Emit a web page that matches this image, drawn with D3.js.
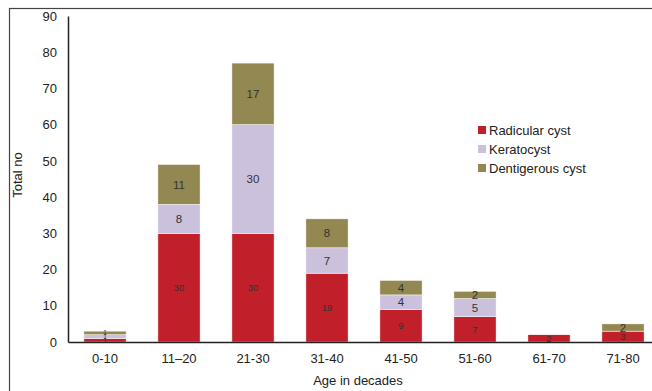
<!DOCTYPE html>
<html>
<head>
<meta charset="utf-8">
<script src="https://cdn.jsdelivr.net/npm/d3@7"></script>
<style>
  html, body { margin: 0; padding: 0; background: #fff; }
  svg { display: block; font-family: "Liberation Sans", Arial, sans-serif; }
</style>
</head>
<body>
<svg id="chart" width="652" height="391"></svg>
<script>
// Cyst counts per age decade
const categories = ["0-10", "11–20", "21-30", "31-40", "41-50", "51-60", "61-70", "71-80"];
const radicular   = [1, 30, 30, 19, 9, 7, 2, 3];
const keratocyst  = [1, 8, 30, 7, 4, 5, 0, 0];
const dentigerous = [1, 11, 17, 8, 4, 2, 0, 2];
const seriesNames = ["Radicular cyst", "Keratocyst", "Dentigerous cyst"];
const seriesColors = ["#c11f29", "#cbc1dc", "#938752"];
const yTicks = [0, 10, 20, 30, 40, 50, 60, 70, 80, 90];

const svg = d3.select("#chart");
const margin = { left: 68, top: 16, bottom: 342, right: 660 };

// Outer frame (partly beyond the canvas)
svg.append("rect")
  .attr("x", 9.5).attr("y", 8.5)
  .attr("width", 700).attr("height", 500)
  .attr("fill", "none").attr("stroke", "#444").attr("stroke-width", 1.2);

const x = d3.scaleBand().domain(categories).range([margin.left, margin.right]).paddingInner(0.43).paddingOuter(0.215);
const y = d3.scaleLinear().domain([0, 90]).range([margin.bottom, margin.top]);

const rows = categories.map((c, i) => ({
  cat: c, s0: radicular[i], s1: keratocyst[i], s2: dentigerous[i]
}));
const stack = d3.stack().keys(["s0", "s1", "s2"])(rows);

// Bars
stack.forEach((layer, li) => {
  const g = svg.append("g");
  layer.forEach(d => {
    const v = d[1] - d[0];
    if (v <= 0) return;
    g.append("rect")
      .attr("x", x(d.data.cat))
      .attr("y", y(d[1]))
      .attr("width", x.bandwidth())
      .attr("height", y(d[0]) - y(d[1]))
      .attr("fill", seriesColors[li])
      .attr("stroke", "#fff").attr("stroke-width", 0.5);
  });
});

// Value labels
stack.forEach((layer, li) => {
  layer.forEach(d => {
    const v = d[1] - d[0];
    if (v <= 0) return;
    const small = (d[1] - d[0]) < 2;
    let fs = li === 0 ? 9.5 : 11.5;
    if (d.data.cat === "0-10") fs = 6.5;
    if (li > 0 && v <= 2 && d.data.cat !== "0-10") fs = 11.5;
    svg.append("text")
      .attr("x", x(d.data.cat) + x.bandwidth() / 2)
      .attr("y", (y(d[0]) + y(d[1])) / 2)
      .attr("dy", "0.36em")
      .attr("text-anchor", "middle")
      .attr("font-size", fs)
      .attr("fill", "#333")
      .text(v);
  });
});

// Y axis
const yAxis = d3.axisLeft(y).tickValues(yTicks).tickSize(0).tickPadding(11);
const ya = svg.append("g").attr("transform", `translate(${margin.left},0)`).call(yAxis);
ya.select(".domain").attr("stroke", "#222").attr("stroke-width", 1.5);
ya.selectAll("text").attr("font-size", 13).attr("fill", "#222").attr("font-family", "Liberation Sans, Arial, sans-serif");

// X axis
const xAxis = d3.axisBottom(x).tickSize(0).tickPadding(12);
const xa = svg.append("g").attr("transform", `translate(0,${margin.bottom})`).call(xAxis);
xa.select(".domain").attr("stroke", "#222").attr("stroke-width", 1.5);
xa.selectAll("text").attr("font-size", 13).attr("fill", "#222").attr("font-family", "Liberation Sans, Arial, sans-serif");

// Axis titles
svg.append("text")
  .attr("transform", "translate(22,175) rotate(-90)")
  .attr("text-anchor", "middle").attr("font-size", 13).attr("fill", "#222")
  .text("Total no");
svg.append("text")
  .attr("x", 358).attr("y", 385)
  .attr("text-anchor", "middle").attr("font-size", 13).attr("fill", "#222")
  .text("Age in decades");

// Legend
const legend = svg.append("g").attr("transform", "translate(478,130)");
seriesNames.forEach((n, i) => {
  legend.append("rect")
    .attr("x", 0).attr("y", i * 19 - 4).attr("width", 8).attr("height", 8)
    .attr("fill", seriesColors[i]);
  legend.append("text")
    .attr("x", 11).attr("y", i * 19).attr("dy", "0.35em")
    .attr("font-size", 13).attr("fill", "#222")
    .text(n);
});
</script>
</body>
</html>
